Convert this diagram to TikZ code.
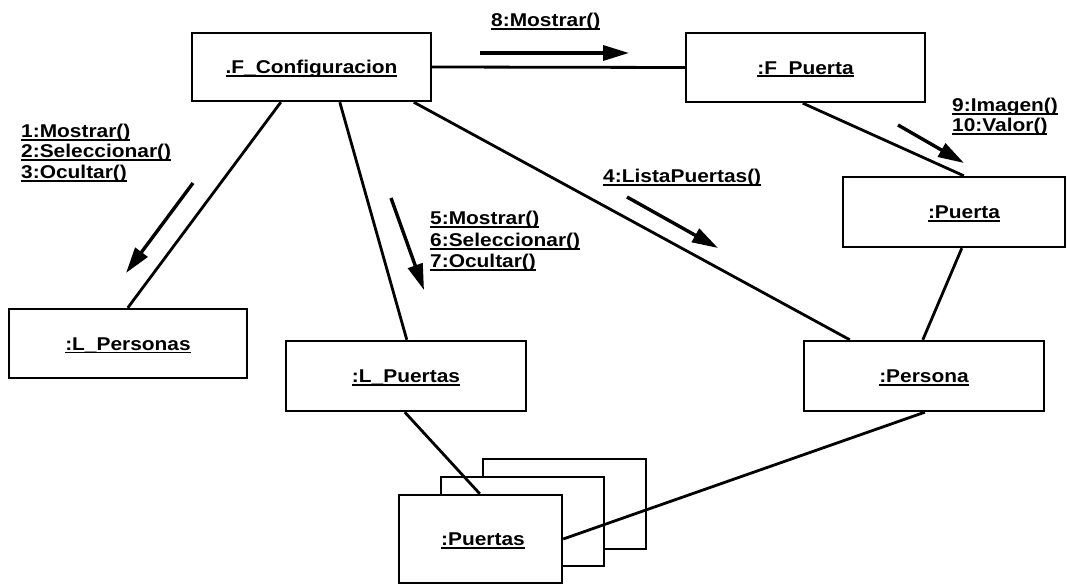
\documentclass[tikz,border=0pt]{standalone}
\usepackage{fontspec}
\newfontfamily\diafont{Liberation Sans}[FakeStretch=1.13]
\usetikzlibrary{arrows.meta,calc}
% underlined label text (fixed underline position, like the UML tool)
\newcommand\uln[1]{\setbox0=\hbox{#1}\rlap{\rule[-3.2pt]{\wd0}{1.8pt}}\box0}
\newcommand\dfont{\diafont\bfseries\fontsize{18.5}{20.5}\selectfont}

\begin{document}
\begin{tikzpicture}[x=1pt,y=-1pt,
  objbox/.style={draw, line width=2.4pt, fill=white, inner sep=0pt,
    font=\dfont, text height=13.2pt, text depth=0pt},
  link/.style={line width=2.8pt},
  msg/.style={line width=3.4pt, -{Triangle[length=26pt,width=15pt]}},
  lbl/.style={font=\dfont, inner sep=0pt, anchor=base west}]

\fill[white] (0,0) rectangle (1078,585);
\useasboundingbox (0,0) rectangle (1078,585);

% objects
\node[objbox, minimum width=239pt, minimum height=68pt] (fc) at (311.5,67) {\uln{.F\_Configuracion}};
\node[objbox, minimum width=239pt, minimum height=69pt] (fp) at (805.5,67.5) {\uln{:F\_Puerta}};
\node[objbox, minimum width=222pt, minimum height=70pt] (pu) at (954,212) {\hspace*{20pt}\uln{:Puerta}};
\node[objbox, minimum width=238pt, minimum height=69pt] (lpe) at (128,343.5) {\uln{:L\_Personas}};
\node[objbox, minimum width=240pt, minimum height=70pt] (lpu) at (406,376) {\uln{:L\_Puertas}};
\node[objbox, minimum width=240pt, minimum height=70pt] (pe) at (924,376) {\uln{:Persona}};

% multi-object stack
\node[objbox, minimum width=163pt, minimum height=90pt] (pb) at (564.5,504) {};
\node[objbox, minimum width=163pt, minimum height=89pt] (pm) at (522.5,521.5) {};
\node[objbox, minimum width=163pt, minimum height=88pt] (pf) at (480.5,539) {\hspace*{5pt}\uln{:Puertas}};

% links
\draw[link] (fc.east) -- (fp.west);
\draw[link] ($(fc.south west)+(90,0)$) -- ($(lpe.north west)+(120,0)$);
\draw[link] ($(fc.south west)+(149,0)$) -- ($(lpu.north west)+(122,0)$);
\draw[link] ($(fc.south west)+(223,0)$) -- ($(pe.north west)+(47,0)$);
\draw[link] ($(fp.south west)+(118,0)$) -- ($(pu.north west)+(122,0)$);
\draw[link] ($(pu.south west)+(120,0)$) -- ($(pe.north west)+(120,0)$);
\draw[link] ($(lpu.south west)+(120,0)$) -- ($(pf.north west)+(82,0)$);
\draw[link] ($(pe.south west)+(122,0)$) -- (pf.east);

% messages
\coordinate (m8a) at (480,53);  \coordinate (m8b) at (629,53);
\coordinate (m1a) at (193,183); \coordinate (m1b) at (126,273);
\coordinate (m5a) at (391,198); \coordinate (m5b) at (424,290);
\coordinate (m4a) at (627,197); \coordinate (m4b) at (718,248);
\coordinate (m9a) at (898,125); \coordinate (m9b) at (964,163);
\draw[msg] (m8a) -- (m8b);
\draw[msg] (m1a) -- (m1b);
\draw[msg] (m5a) -- (m5b);
\draw[msg] (m4a) -- (m4b);
\draw[msg] (m9a) -- (m9b);

% message labels
\node[lbl] (t8) at (491,26.5) {\uln{8:Mostrar()}};
\node[lbl] (t1) at (21,137.5) {\uln{1:Mostrar()}};
\node[lbl] (t2) at (21,158) {\uln{2:Seleccionar()}};
\node[lbl] (t3) at (21,178.5) {\uln{3:Ocultar()}};
\node[lbl] (t5) at (430,225) {\uln{5:Mostrar()}};
\node[lbl] (t6) at (430,246.5) {\uln{6:Seleccionar()}};
\node[lbl] (t7) at (430,268) {\uln{7:Ocultar()}};
\node[lbl] (t4) at (603,182.5) {\uln{4:ListaPuertas()}};
\node[lbl] (t9) at (952,112) {\uln{9:Imagen()}};
\node[lbl] (t10) at (952,132) {\uln{10:Valor()}};
\end{tikzpicture}
\end{document}
